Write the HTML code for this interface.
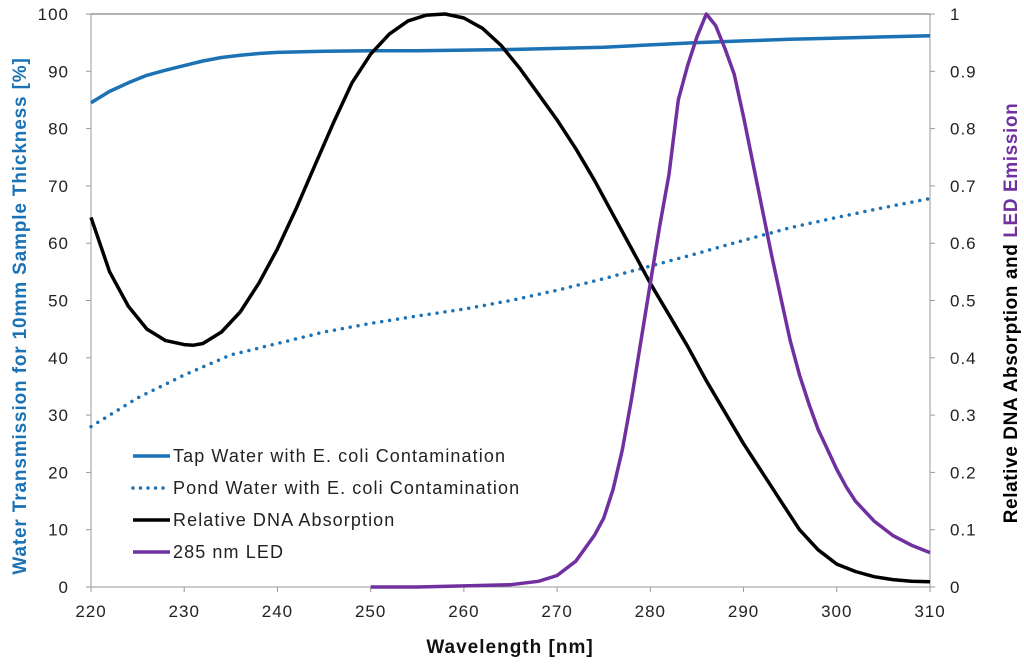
<!DOCTYPE html>
<html><head><meta charset="utf-8"><style>
body{margin:0;background:#fff;}
svg{font-family:"Liberation Sans",sans-serif;}
</style></head><body>
<svg id="c" width="1024" height="665"></svg>
<script>
const wlTap=[220,222,224,226,228,230,232,234,236,238,240,245,250,255,260,265,270,275,280,285,290,295,300,305,310];
const tapVals=[84.5,86.5,88,89.3,90.2,91,91.8,92.4,92.8,93.1,93.3,93.5,93.6,93.6,93.7,93.8,94,94.2,94.6,95,95.3,95.6,95.8,96,96.2];
const wlPond=[220,225,230,235,240,245,250,255,260,265,270,275,280,285,290,295,300,305,310];
const pondVals=[28,33,37,40.5,42.5,44.5,46,47.3,48.5,50,51.8,53.8,56,58.2,60.5,62.7,64.5,66.2,67.8];
const wlDna=[220,222,224,226,228,230,231,232,234,236,238,240,242,244,246,248,250,252,254,256,258,260,262,264,266,268,270,272,274,276,278,280,282,284,286,288,290,292,294,296,298,300,302,304,306,308,310];
const dnaVals=[0.645,0.55,0.49,0.45,0.43,0.423,0.422,0.425,0.445,0.48,0.53,0.59,0.66,0.735,0.81,0.88,0.93,0.965,0.988,0.998,1,0.993,0.975,0.945,0.905,0.86,0.815,0.765,0.71,0.65,0.59,0.53,0.475,0.42,0.36,0.305,0.25,0.2,0.15,0.1,0.065,0.04,0.027,0.018,0.013,0.01,0.009];
const wlLed=[250,255,260,265,268,270,272,274,275,276,277,278,279,280,281,282,283,284,285,286,287,288,289,290,291,292,293,294,295,296,297,298,299,300,301,302,304,306,308,310];
const ledVals=[0,0,0.002,0.004,0.01,0.02,0.045,0.09,0.12,0.17,0.24,0.33,0.43,0.53,0.63,0.72,0.85,0.91,0.96,1,0.98,0.94,0.895,0.82,0.74,0.66,0.58,0.505,0.43,0.37,0.32,0.275,0.24,0.205,0.175,0.15,0.115,0.09,0.073,0.06];
const xTicks=[220,230,240,250,260,270,280,290,300,310];
const yTicks=[0,10,20,30,40,50,60,70,80,90,100];
const y2Ticks=["0","0.1","0.2","0.3","0.4","0.5","0.6","0.7","0.8","0.9","1"];

const L=91,R=930,T=14,B=587;
const X=v=>L+(v-220)/90*(R-L);
const Y=v=>B-v/100*(B-T);
const Y2=v=>B-v*(B-T);
const svg=document.getElementById('c');
const NS='http://www.w3.org/2000/svg';
function mk(tag,attrs,parent){const e=document.createElementNS(NS,tag);for(const k in attrs)e.setAttribute(k,attrs[k]);(parent||svg).appendChild(e);return e;}
const BLUE='#1b72b5',PURP='#7030a0';
let a=mk('line',{x1:L,y1:T,x2:R,y2:T,stroke:'#666','stroke-width':1});

a=mk('line',{x1:L,y1:T,x2:L,y2:B,stroke:'#999','stroke-width':1});

a=mk('line',{x1:R,y1:T,x2:R,y2:B,stroke:'#999','stroke-width':1});

a=mk('line',{x1:L,y1:B,x2:R,y2:B,stroke:'#999','stroke-width':1});

xTicks.forEach(t=>{
 const l=mk('line',{x1:X(t),y1:B,x2:X(t),y2:B+5,stroke:'#999'});
 
 const tx=mk('text',{x:X(t),y:B+30,'text-anchor':'middle','font-size':17,'letter-spacing':1,fill:'#222'});tx.textContent=t;
 
});
yTicks.forEach((t,i)=>{
 const l=mk('line',{x1:L-5,y1:Y(t),x2:L,y2:Y(t),stroke:'#999'});
 
 const tx=mk('text',{x:L-22,y:Y(t)+6,'text-anchor':'end','font-size':17,'letter-spacing':1,fill:'#222'});tx.textContent=t;
 
 const l2=mk('line',{x1:R,y1:Y(t),x2:R+5,y2:Y(t),stroke:'#999'});
 
 const t2=mk('text',{x:R+20,y:Y(t)+6,'text-anchor':'start','font-size':17,'letter-spacing':1,fill:'#222'});t2.textContent=y2Ticks[i];
 
});
function line(xs,ys,fy,attrs,name){
 const d=xs.map((x,i)=>(i?'L':'M')+X(x).toFixed(1)+','+fy(ys[i]).toFixed(1)).join('');
 const p=mk('path',Object.assign({d:d,fill:'none','stroke-linejoin':'round'},attrs));
 
}
line(wlTap,tapVals,Y,{stroke:BLUE,'stroke-width':3.5},'tap-water-line');
line(wlPond,pondVals,Y,{stroke:BLUE,'stroke-width':3.5,'stroke-dasharray':'0 8','stroke-linecap':'round'},'pond-water-line');
line(wlDna,dnaVals,Y2,{stroke:'#000','stroke-width':3.5},'dna-absorption-line');
line(wlLed,ledVals,Y2,{stroke:PURP,'stroke-width':3.5},'led-emission-line');
const leg=[['Tap Water with E. coli Contamination',BLUE,''],['Pond Water with E. coli Contamination',BLUE,'dot'],['Relative DNA Absorption','#000',''],['285 nm LED',PURP,'']];
leg.forEach((e,i)=>{
 const y=456+i*32;
 const g=mk('g',{});
 const at={x1:133,y1:y,x2:170,y2:y,stroke:e[1],'stroke-width':3.5};
 if(e[2]){at['stroke-dasharray']='0 7.5';at['stroke-linecap']='round';}
 mk('line',at,g);
 const t=mk('text',{x:173,y:y+6,'font-size':18,'letter-spacing':1.1,fill:'#222'},g);t.textContent=e[0];
});
let t=mk('text',{x:510,y:653,'text-anchor':'middle','font-size':19,'letter-spacing':1,'font-weight':'bold',fill:'#111'});t.textContent='Wavelength [nm]';

t=mk('text',{x:0,y:0,transform:'translate(26,316) rotate(-90)','text-anchor':'middle','font-size':19,'letter-spacing':0.85,'font-weight':'bold',fill:BLUE});t.textContent='Water Transmission for 10mm Sample Thickness  [%]';

t=mk('text',{x:0,y:0,transform:'translate(1017,313) rotate(-90)','text-anchor':'middle','font-size':19,'letter-spacing':0.6,'font-weight':'bold',fill:'#000'});
t.innerHTML='Relative DNA Absorption and <tspan fill="'+PURP+'">LED Emission</tspan>';

</script>
</body></html>
